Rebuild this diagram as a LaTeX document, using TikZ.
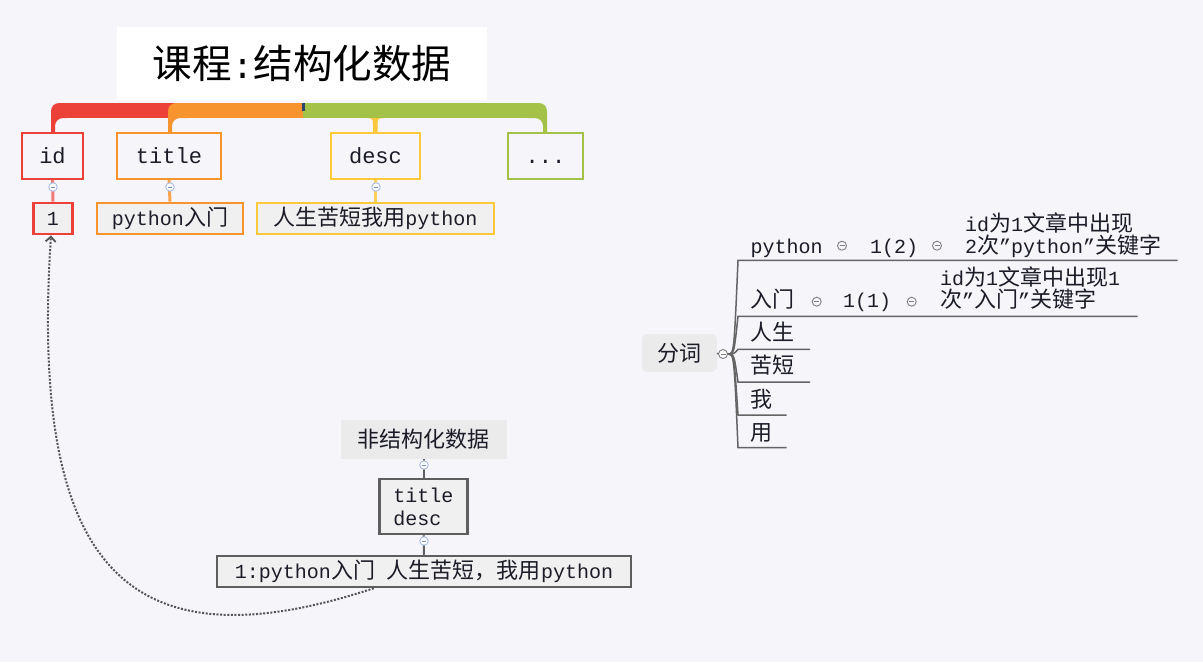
\documentclass[tikz,border=0pt]{standalone}
\usepackage{fontspec}
\setmainfont{Liberation Mono}
\newfontfamily\cjkfont{Noto Sans CJK SC}[Scale=1.1]
\newcommand\zh[1]{{\cjkfont #1}}
\usetikzlibrary{calc,arrows.meta}
\definecolor{bgc}{RGB}{245,245,250}
\definecolor{redc}{RGB}{236,65,56}
\definecolor{orangec}{RGB}{248,148,46}
\definecolor{yellowc}{RGB}{252,200,60}
\definecolor{greenc}{RGB}{164,194,72}
\definecolor{tickc}{RGB}{46,68,112}
\definecolor{txtc}{RGB}{28,28,40}
\definecolor{boxgray}{RGB}{240,240,240}
\definecolor{fillgray}{RGB}{235,235,235}
\definecolor{linegray}{RGB}{94,94,94}
\definecolor{dotgray}{RGB}{85,85,85}
\definecolor{branchgray}{RGB}{100,100,100}
\definecolor{bluec}{RGB}{170,188,228}
\definecolor{minusblue}{RGB}{120,140,190}
\tikzset{
  lvlone/.style={draw=#1, line width=1.6pt, fill=bgc, inner sep=0pt, minimum height=46pt, text=txtc, font=\fontsize{22}{26}\selectfont},
  lvltwo/.style={draw=#1, line width=2.8pt, fill=boxgray, inner sep=0pt, minimum height=31pt, text=txtc, font=\fontsize{20}{24}\selectfont},
  collapse/.style={circle, draw=bluec, fill=white, line width=0.9pt, minimum size=8.5pt, inner sep=0pt,
    path picture={\draw[minusblue, line width=0.8pt] ([xshift=-2.3pt]path picture bounding box.center) -- ([xshift=2.3pt]path picture bounding box.center);}},
  graycollapse/.style={circle, draw=gray, fill=bgc, line width=0.9pt, minimum size=9pt, inner sep=0pt,
    path picture={\draw[gray, line width=0.8pt] ([xshift=-2.5pt]path picture bounding box.center) -- ([xshift=2.5pt]path picture bounding box.center);}},
  graybox/.style={draw=linegray, line width=2.5pt, fill=boxgray, inner sep=0pt, text=txtc, font=\fontsize{20}{23}\selectfont},
  plainfill/.style={fill=fillgray, inner sep=0pt, text=txtc, font=\fontsize{20}{24}\selectfont},
  link/.style={draw=linegray, line width=2pt},
  branch/.style={draw=branchgray, line width=1.5pt},
  lbl/.style={anchor=base west, inner sep=0pt, text=txtc, font=\fontsize{20}{24}\selectfont},
  refarrow/.style={draw=dotgray, line width=2pt, dash pattern=on 2pt off 1.6pt,
    -{Straight Barb[length=5pt, width=10pt, line width=1.8pt]}}
}
\begin{document}
\begin{tikzpicture}[x=1pt,y=-1pt]
\useasboundingbox (0,0) rectangle (1203,662);
\path[fill=bgc] (0,0) rectangle (1203,662);

% title
\node[fill=white, minimum width=370pt, minimum height=73pt, inner sep=0pt, text=black, font=\fontsize{36}{40}\selectfont] (root) at (302,63.5) {\zh{课程}:\zh{结构化数据}};

% bands
\fill[redc] (59,103) rectangle (182,118);
\fill[redc, rounded corners=8pt] (75,103) -- (51,103) -- (51,146) -- (55,146) -- (55,118) -- (75,118) -- cycle;
\fill[orangec] (178,103) rectangle (303,118);
\fill[orangec, rounded corners=8pt] (195,103) -- (168,103) -- (168,146) -- (172,146) -- (172,118) -- (195,118) -- cycle;
\fill[greenc] (303,103) rectangle (535,118);
\fill[greenc, rounded corners=8pt] (520,103) -- (547,103) -- (547,146) -- (543,146) -- (543,118) -- (520,118) -- cycle;
\fill[yellowc] (367,118) .. controls (373,118) and (373,120) .. (373,125) -- (373,146) -- (377.5,146) -- (377.5,125) .. controls (377.5,120) and (377.5,118) .. (383.5,118) -- cycle;
\fill[tickc] (302,102.5) rectangle (304.5,111);

% level one
\node[lvlone=redc, minimum width=61pt] (id) at (52.5,156) {id};
\node[lvlone=orangec, minimum width=104pt] (ti) at (169,156) {title};
\node[lvlone=yellowc, minimum width=89pt] (de) at (375.5,156) {desc};
\node[lvlone=greenc, minimum width=75pt] (more) at (545.5,156) {\vphantom{d}...};

% level two
\node[lvltwo=redc, minimum width=39pt] (one) at (53,218.5) {1};
\node[lvltwo=orangec, minimum width=146pt] (py) at (170,218.5) {python\zh{入门}};
\node[lvltwo=yellowc, minimum width=237pt] (rs) at (375.5,218.5) {\zh{人生苦短我用}python};

\draw[redc!70, line width=3pt] (id.south) -- (one.north);
\draw[orangec!85, line width=3pt] (ti.south) -- (py.north);
\draw[yellowc!85, line width=3pt] (de.south) -- (rs.north);
\node[collapse] (k1) at (53,187) {};
\node[collapse] (k2) at (170,187) {};
\node[collapse] (k3) at (376,187) {};

% unstructured
\node[plainfill, minimum width=166pt, minimum height=39pt] (uns) at (423.5,439.5) {\zh{非结构化数据}};
\node[graybox, minimum width=88pt, minimum height=55pt, align=left] (td) at (423.5,506.5) {title\\desc};
\node[graybox, minimum width=414pt, minimum height=31pt] (cnt) at (424,571.5) {1:python\zh{入门} \zh{人生苦短，我用}python};
\draw[link] (uns.south) -- (td.north);
\draw[link] (td.south) -- (cnt.north);
\node[collapse] (k4) at (424,465) {};
\node[collapse] (k5) at (424,541) {};

\draw[refarrow] ($(cnt.south west)+(158,0)$) .. controls (120,672) and (30,560) .. ($(one.south)+(-2,0)$);

% word split
\node[plainfill, rounded corners=6pt, minimum width=75pt, minimum height=38pt] (fc) at (679.5,353) {\zh{分词}};
\node[graycollapse, fill=white] (fcc) at (723,354) {};
\draw[branch] (fc.east) -- (fcc.west);

\coordinate (u1s) at (738,260.3); \coordinate (u1e) at (1177.7,260.3);
\coordinate (u2s) at (738,316.3); \coordinate (u2e) at (1137.7,316.3);
\coordinate (u3s) at (738,349.3); \coordinate (u3e) at (810,349.3);
\coordinate (u4s) at (738,382); \coordinate (u4e) at (810,382);
\coordinate (u5s) at (738,415); \coordinate (u5e) at (786.7,415);
\coordinate (u6s) at (738,447.7); \coordinate (u6e) at (786.7,447.7);
\foreach \i in {1,...,6}{
  \draw[branch] (fcc.east) .. controls (734,354) .. (u\i s) -- (u\i e);
}

\node[lbl] (w1) at (750.5,253) {python};
\node[graycollapse] (g1) at (842,245.7) {};
\node[lbl] (n1) at (870,253) {1(2)};
\node[graycollapse] (g2) at (937,245.7) {};
\node[lbl] (d1a) at (965,231) {id\zh{为}1\zh{文章中出现}};
\node[lbl] (d1b) at (965,253) {2\zh{次}”python”\zh{关键字}};

\node[lbl] (w2) at (750.5,307) {\zh{入门}};
\node[graycollapse] (g3) at (816.7,301.7) {};
\node[lbl] (n2) at (843,307.5) {1(1)};
\node[graycollapse] (g4) at (911.7,301.7) {};
\node[lbl] (d2a) at (940,285.5) {id\zh{为}1\zh{文章中出现}1};
\node[lbl] (d2b) at (940,307.5) {\zh{次}”\zh{入门}”\zh{关键字}};

\node[lbl] (w3) at (750.5,340.5) {\zh{人生}};
\node[lbl] (w4) at (750.5,373.5) {\zh{苦短}};
\node[lbl] (w5) at (750.5,407) {\zh{我}};
\node[lbl] (w6) at (750.5,440) {\zh{用}};
\end{tikzpicture}
\end{document}
